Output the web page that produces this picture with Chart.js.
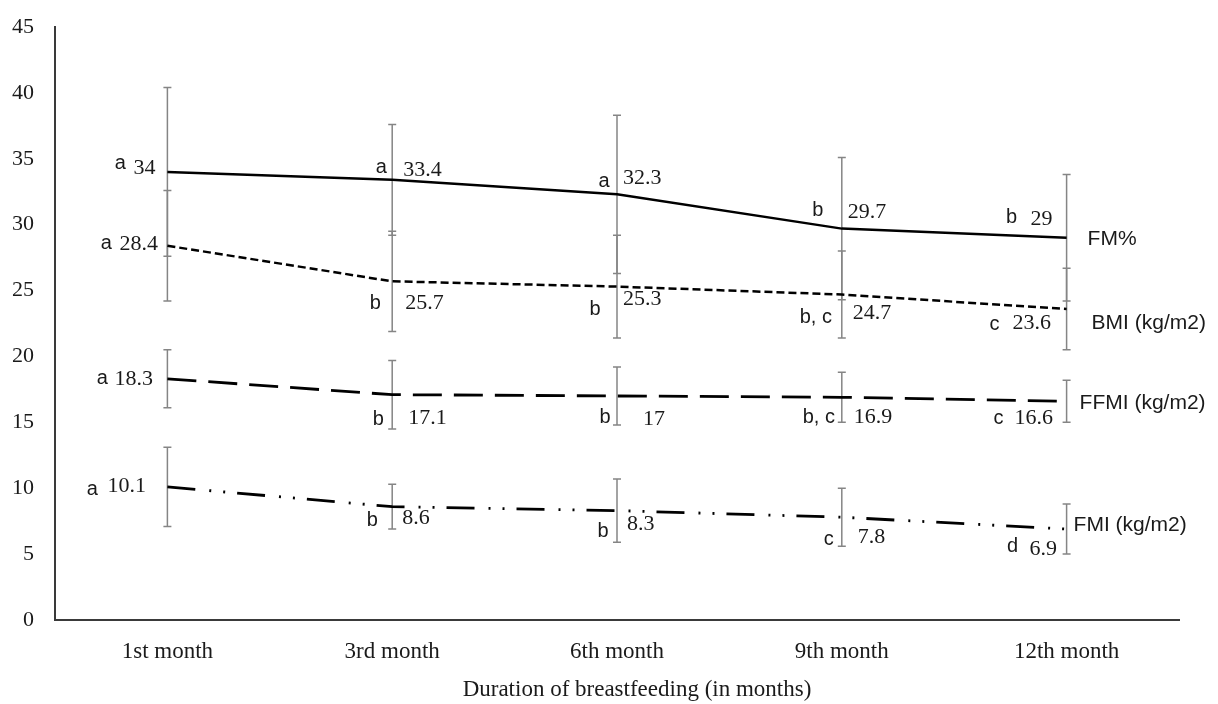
<!DOCTYPE html>
<html>
<head>
<meta charset="utf-8">
<script src="https://cdn.jsdelivr.net/npm/chart.js@4/dist/chart.umd.min.js"></script>
<style>
  body { margin: 0; background: #fff; }
  #wrap { width: 1218px; height: 704px; position: relative; }
</style>
</head>
<body>
<div id="wrap"><canvas id="bfChart"></canvas></div>
<script>
// data
const months = ['1st month', '3rd month', '6th month', '9th month', '12th month'];
const yTicks = [0, 5, 10, 15, 20, 25, 30, 35, 40, 45];

const fmPct = [34, 33.4, 32.3, 29.7, 29];
const fmPctErr = [6.4, 4.2, 6.0, 5.4, 4.8];
const fmPctLetters = ['a', 'a', 'a', 'b', 'b'];

const bmi = [28.4, 25.7, 25.3, 24.7, 23.6];
const bmiErr = [4.2, 3.8, 3.9, 3.3, 3.1];
const bmiLetters = ['a', 'b', 'b', 'b, c', 'c'];

const ffmi = [18.3, 17.1, 17, 16.9, 16.6];
const ffmiErr = [2.2, 2.6, 2.2, 1.9, 1.6];
const ffmiLetters = ['a', 'b', 'b', 'b, c', 'c'];

const fmi = [10.1, 8.6, 8.3, 7.8, 6.9];
const fmiErr = [3.0, 1.7, 2.4, 2.2, 1.9];
const fmiLetters = ['a', 'b', 'b', 'c', 'd'];

const seriesNames = ['FM%', 'BMI (kg/m2)', 'FFMI (kg/m2)', 'FMI (kg/m2)'];
const xTitle = 'Duration of breastfeeding (in months)';

// label placement (pixel offsets from each point): [letterDx, letterDy, numberDx, numberDy]
const labelOffsets = [
  [[-47, -8], [-34, -4], [-11, -12], [11, -10], [-13, -13], [6, -16], [-24, -18], [6, -16], [-55, -20], [-36, -19]],
  [[-61, -2], [-48, -2], [-17, 22], [13, 22], [-22, 23], [6, 13], [-26, 23], [11, 19], [-72, 15], [-54, 14]],
  [[-65, 0], [-53, 0], [-14, 25], [16, 24], [-12, 22], [26, 23], [-23, 20], [12, 20], [-68, 17], [-52, 17]],
  [[-75, 3], [-60, -1], [-20, 14], [10, 12], [-14, 21], [10, 14], [-13, 22], [16, 20], [-54, 17], [-37, 20]]
];
const nameOffsets = [[21, 1], [25, 14], [13, 2], [7, -4]];

const errSets = [fmPctErr, bmiErr, ffmiErr, fmiErr];
const letterSets = [fmPctLetters, bmiLetters, ffmiLetters, fmiLetters];

const serif = "'Liberation Serif', 'Times New Roman', serif";
const sans = "'Liberation Sans', Arial, sans-serif";

// error bars drawn under the lines
const errorBars = {
  id: 'errorBars',
  beforeDatasetsDraw(chart) {
    const ctx = chart.ctx;
    const y = chart.scales.y;
    ctx.save();
    ctx.strokeStyle = '#858585';
    ctx.lineWidth = 1.5;
    chart.data.datasets.forEach((ds, si) => {
      const meta = chart.getDatasetMeta(si);
      meta.data.forEach((pt, i) => {
        const e = errSets[si][i];
        const top = y.getPixelForValue(ds.data[i] + e);
        const bot = y.getPixelForValue(ds.data[i] - e);
        ctx.beginPath();
        ctx.moveTo(pt.x, top); ctx.lineTo(pt.x, bot);
        ctx.moveTo(pt.x - 4, top); ctx.lineTo(pt.x + 4, top);
        ctx.moveTo(pt.x - 4, bot); ctx.lineTo(pt.x + 4, bot);
        ctx.stroke();
      });
    });
    ctx.restore();
  }
};

// letters, values, series names and the x title
const pointLabels = {
  id: 'pointLabels',
  afterDatasetsDraw(chart) {
    const ctx = chart.ctx;
    ctx.save();
    ctx.fillStyle = '#1a1a1a';
    ctx.textBaseline = 'middle';
    chart.data.datasets.forEach((ds, si) => {
      const meta = chart.getDatasetMeta(si);
      meta.data.forEach((pt, i) => {
        const lo = labelOffsets[si];
        ctx.font = '20px ' + sans;
        ctx.textAlign = 'center';
        ctx.fillText(letterSets[si][i], pt.x + lo[i * 2][0], pt.y + lo[i * 2][1]);
        ctx.font = '22px ' + serif;
        ctx.textAlign = 'left';
        ctx.fillText(String(ds.data[i]), pt.x + lo[i * 2 + 1][0], pt.y + lo[i * 2 + 1][1]);
      });
      const last = meta.data[meta.data.length - 1];
      ctx.font = '21px ' + sans;
      ctx.textAlign = 'left';
      ctx.fillText(seriesNames[si], last.x + nameOffsets[si][0], last.y + nameOffsets[si][1]);
    });
    const area = chart.chartArea;
    ctx.font = '23px ' + serif;
    ctx.textAlign = 'center';
    ctx.fillText(xTitle, (area.left + area.right) / 2 + 20, 690);
    ctx.restore();
  }
};

const ctx = document.getElementById('bfChart').getContext('2d');
new Chart(ctx, {
  type: 'line',
  data: {
    labels: months,
    datasets: [
      { label: seriesNames[0], data: fmPct, borderColor: '#000', borderWidth: 2.5, pointRadius: 0, tension: 0 },
      { label: seriesNames[1], data: bmi, borderColor: '#000', borderWidth: 2.5, borderDash: [8, 4], pointRadius: 0, tension: 0 },
      { label: seriesNames[2], data: ffmi, borderColor: '#000', borderWidth: 2.8, borderDash: [29, 12], pointRadius: 0, tension: 0 },
      { label: seriesNames[3], data: fmi, borderColor: '#000', borderWidth: 2.8, borderDash: [28, 14, 2, 12, 2, 12], pointRadius: 0, tension: 0 }
    ]
  },
  options: {
    responsive: true,
    maintainAspectRatio: false,
    animation: false,
    layout: { padding: { top: 27, right: 39, bottom: 0, left: 0 } },
    plugins: {
      legend: { display: false },
      tooltip: { enabled: false }
    },
    scales: {
      x: {
        offset: true,
        grid: { display: false },
        border: { display: true, color: '#3a3a3a', width: 2 },
        ticks: { color: '#1a1a1a', font: { family: serif, size: 23 }, padding: 10 },
        afterFit: s => { s.height = 84; }
      },
      y: {
        min: 0,
        max: 45,
        afterBuildTicks: s => { s.ticks = yTicks.map(v => ({ value: v })); },
        grid: { display: false },
        border: { display: true, color: '#3a3a3a', width: 2 },
        ticks: { color: '#1a1a1a', font: { family: serif, size: 22 }, padding: 13 },
        afterFit: s => { s.width = 55; s.paddingTop = 10; s.paddingBottom = 10; }
      }
    }
  },
  plugins: [errorBars, pointLabels]
});
</script>
</body>
</html>
